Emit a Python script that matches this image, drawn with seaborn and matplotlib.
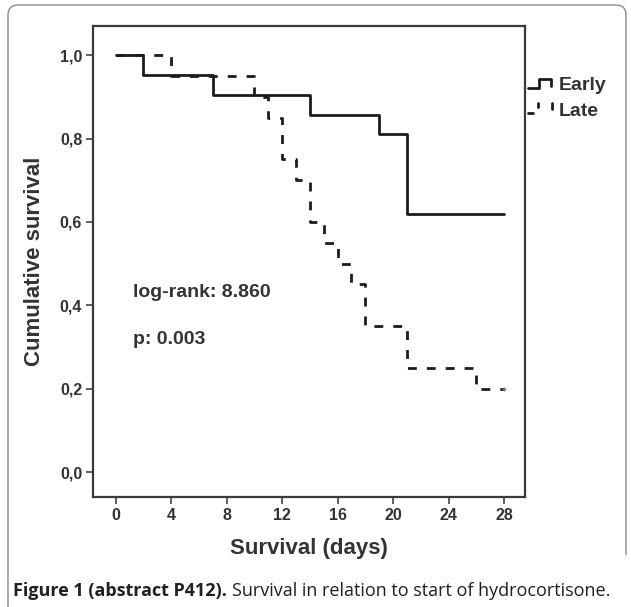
import numpy as np
import pandas as pd
import seaborn as sns
import matplotlib.pyplot as plt
import matplotlib.transforms as mtrans
from matplotlib.lines import Line2D
from matplotlib.patches import FancyBboxPatch, Rectangle

# Kaplan-Meier steps
early_days = [0, 2, 7, 14, 19, 21, 28]
early_surv = [1.0, 0.952, 0.905, 0.857, 0.810, 0.619, 0.619]
late_days = [0, 4, 10, 11, 12, 13, 14, 15, 16, 17, 18, 21, 26, 28]
late_surv = [1.0, 0.95, 0.90, 0.85, 0.75, 0.70, 0.60, 0.55, 0.50, 0.45, 0.35, 0.25, 0.20, 0.20]
groups = ["Early", "Late"]
x_ticks = [0, 4, 8, 12, 16, 20, 24, 28]
y_ticks = [0.0, 0.2, 0.4, 0.6, 0.8, 1.0]
y_ticklabels = ["0,0", "0,2", "0,4", "0,6", "0,8", "1,0"]
stats_text = ["log-rank: 8.860", "p: 0.003"]

df = pd.concat([
    pd.DataFrame({"time": early_days, "surv": early_surv, "group": "Early"}),
    pd.DataFrame({"time": late_days, "surv": late_surv, "group": "Late"}),
])

sns.set_style("white")
plt.rcParams["font.family"] = ["Liberation Sans", "DejaVu Sans"]
txt = "#333333"
ink = "#1c1c1c"

W, H = 631, 607
fig = plt.figure(figsize=(W / 100, H / 100), dpi=100)
px = mtrans.IdentityTransform()

# outer rounded frame of the figure panel
frame = FancyBboxPatch((8, -30), 618, 632, boxstyle="round,pad=0,rounding_size=10",
                       transform=px, fill=False, edgecolor="#8a8a8a", linewidth=1.0)
fig.add_artist(frame)
fig.add_artist(Rectangle((600, -40), 40, H - 555 + 40, transform=px,
                         facecolor="white", edgecolor="none"))

ax = fig.add_axes([0.1479, 0.1817, 0.684, 0.7755])
sns.lineplot(data=df, x="time", y="surv", hue="group", style="group",
             palette={"Early": ink, "Late": ink},
             dashes={"Early": "", "Late": (3.2, 3.6)},
             drawstyle="steps-post", estimator=None, linewidth=2.0,
             legend=False, ax=ax)
ax.plot(28, 0.2, marker="+", markersize=3, color="#777777", linestyle="none")

ax.set_xlim(-1.615, 29.51)
ax.set_ylim(-0.059, 1.07)
ax.set_xticks(x_ticks)
ax.set_yticks(y_ticks)
ax.set_yticklabels(y_ticklabels)
ax.tick_params(axis="both", direction="out", length=5, width=1.2, color="#444444",
               labelsize=11.5, labelcolor=txt, pad=3, bottom=True, left=True)
for lab in ax.get_xticklabels() + ax.get_yticklabels():
    lab.set_fontweight("bold")
for s in ax.spines.values():
    s.set_color("#3a3a3a")
    s.set_linewidth(1.6)

ax.set_xlabel("Survival (days)", fontsize=16, fontweight="bold", color=txt, labelpad=11)
ax.set_ylabel("Cumulative survival", fontsize=16, fontweight="bold", color=txt, labelpad=11)

ax.text(1.25, 0.43, stats_text[0], fontsize=14, fontweight="bold", color=txt, va="center")
ax.text(1.25, 0.317, stats_text[1], fontsize=14, fontweight="bold", color=txt, va="center")

# legend drawn beside the frame, step-shaped glyphs
def yy(v):
    return H - v

fig.add_artist(Line2D([528, 539, 539, 551, 551], [yy(88), yy(88), yy(79), yy(79), yy(86)],
                      transform=px, color=ink, linewidth=2.0))
fig.add_artist(Line2D([528, 533], [yy(113), yy(113)], transform=px, color=ink, linewidth=2.0))
fig.add_artist(Line2D([538, 538], [yy(103), yy(107)], transform=px, color=ink, linewidth=2.0))
fig.add_artist(Line2D([552, 552], [yy(103), yy(109)], transform=px, color=ink, linewidth=2.0))
fig.text(559, yy(85), groups[0], transform=px, fontsize=14, fontweight="bold", color=txt, va="center")
fig.text(559, yy(111), groups[1], transform=px, fontsize=14, fontweight="bold", color=txt, va="center")

# caption
renderer = fig.canvas.get_renderer()
cap1 = fig.text(13, yy(591), "Figure 1 (abstract P412).", transform=px, fontsize=13,
                fontweight="bold", color="#231f20", va="center", family=["Open Sans", "DejaVu Sans"])
bb = cap1.get_window_extent(renderer)
fig.text(bb.x1 + 5, yy(591), "Survival in relation to start of hydrocortisone.", transform=px,
         fontsize=13, color="#231f20", va="center", family=["Open Sans", "DejaVu Sans"])

fig.savefig("out.png", dpi=100)
